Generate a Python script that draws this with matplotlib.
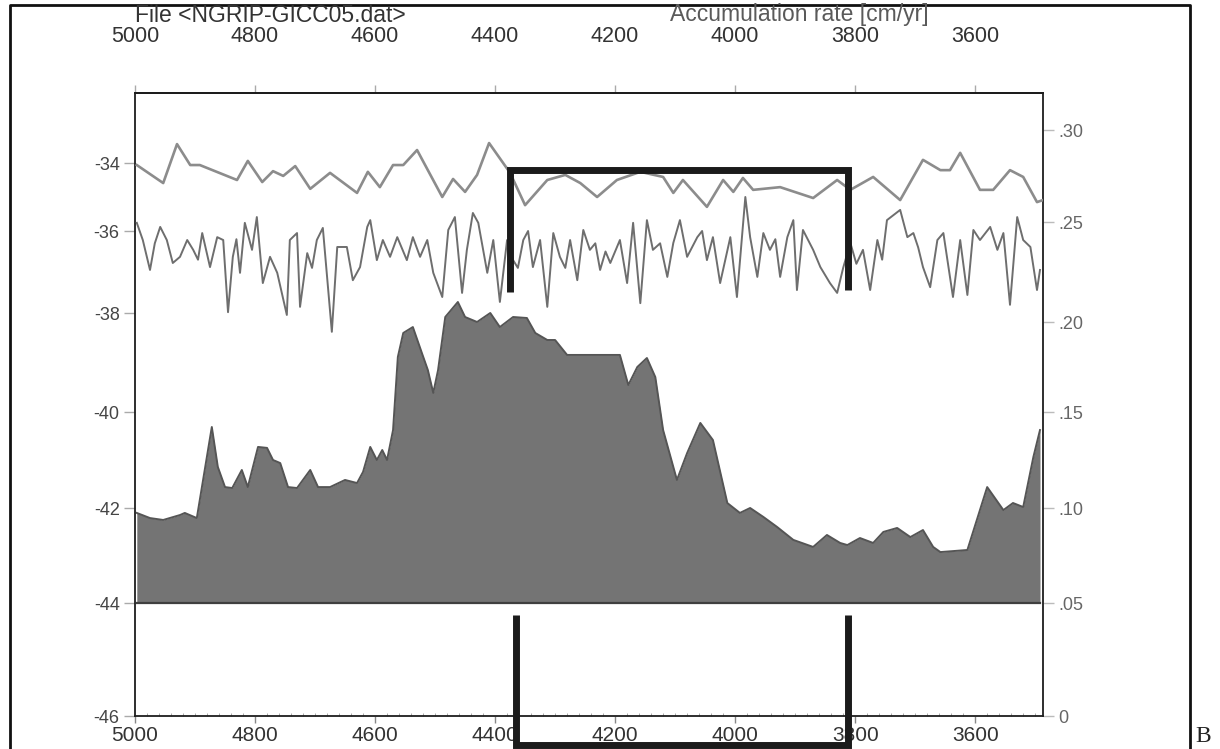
import numpy as np
import matplotlib
matplotlib.use("Agg")
import matplotlib.pyplot as plt
from matplotlib.lines import Line2D
from matplotlib.ticker import MultipleLocator, FixedLocator, FixedFormatter, NullLocator

plt.rcParams['font.family'] = ['Liberation Sans', 'DejaVu Sans']

# ---------------- data ----------------
# upper smoothed d18O curve (left axis)
smooth_years = [4997, 4953, 4930, 4908, 4892, 4830, 4812, 4788, 4770, 4753, 4733, 4708,
                4675, 4630, 4612, 4592, 4570, 4553, 4530, 4488, 4470, 4450, 4430, 4410,
                4375, 4350, 4313, 4283, 4258, 4230, 4197, 4158, 4120, 4103, 4087, 4047,
                4020, 4003, 3987, 3970, 3925, 3870, 3830, 3808, 3770, 3725, 3687, 3658,
                3642, 3625, 3592, 3570, 3542, 3520, 3497, 3487]
smooth_d18o = [-34.06, -34.59, -33.46, -34.06, -34.06, -34.50, -33.94, -34.56, -34.24, -34.38,
               -34.09, -34.76, -34.29, -34.88, -34.26, -34.71, -34.06, -34.06, -33.63, -35.00,
               -34.47, -34.85, -34.35, -33.43, -34.29, -35.24, -34.50, -34.35, -34.59, -35.00,
               -34.50, -34.26, -34.41, -34.88, -34.50, -35.29, -34.50, -34.85, -34.44, -34.79,
               -34.71, -35.03, -34.50, -34.79, -34.41, -35.09, -33.91, -34.21, -34.21, -33.71,
               -34.79, -34.79, -34.21, -34.41, -35.15, -35.09]

# raw d18O curve (left axis)
raw_years = [4997, 4987, 4975, 4967, 4958, 4947, 4937, 4925, 4913, 4903, 4895, 4888, 4875,
             4863, 4853, 4845, 4837, 4831, 4825, 4817, 4805, 4797, 4787, 4775, 4763, 4747,
             4742, 4730, 4725, 4713, 4705, 4697, 4687, 4672, 4663, 4647, 4637, 4625, 4613,
             4608, 4597, 4587, 4575, 4563, 4547, 4537, 4525, 4513, 4503, 4488, 4478, 4467,
             4455, 4447, 4437, 4428, 4413, 4403, 4392, 4380, 4370, 4362, 4353, 4345, 4337,
             4325, 4313, 4303, 4292, 4283, 4275, 4263, 4253, 4242, 4233, 4225, 4216, 4208,
             4192, 4180, 4170, 4158, 4147, 4137, 4125, 4113, 4103, 4092, 4080, 4063, 4055,
             4047, 4037, 4025, 4008, 3997, 3983, 3975, 3963, 3953, 3942, 3933, 3925, 3913,
             3903, 3897, 3887, 3870, 3858, 3842, 3830, 3820, 3808, 3798, 3787, 3775, 3763,
             3755, 3747, 3725, 3713, 3703, 3695, 3687, 3675, 3663, 3653, 3637, 3625, 3613,
             3603, 3592, 3575, 3563, 3553, 3542, 3530, 3520, 3508, 3497, 3492]
raw_d18o = [-35.76, -36.22, -36.95, -36.30, -35.88, -36.22, -36.78, -36.63, -36.22, -36.46,
            -36.70, -36.05, -36.88, -36.15, -36.22, -37.98, -36.63, -36.20, -37.02, -35.76,
            -36.46, -35.59, -37.27, -36.63, -37.02, -38.04, -36.22, -36.05, -37.85, -36.54,
            -36.90, -36.22, -35.91, -38.38, -36.39, -36.39, -37.20, -36.88, -35.88, -35.68,
            -36.71, -36.22, -36.63, -36.15, -36.71, -36.15, -36.63, -36.22, -37.02, -37.61,
            -35.97, -35.59, -37.51, -36.46, -35.47, -35.76, -37.02, -36.22, -37.73, -36.22,
            -36.71, -36.90, -36.22, -36.00, -36.88, -36.22, -37.85, -36.05, -36.63, -36.90,
            -36.22, -37.20, -35.97, -36.46, -36.30, -36.95, -36.50, -36.78, -36.22, -37.27,
            -35.76, -37.76, -35.68, -36.46, -36.30, -37.12, -36.29, -35.68, -36.63, -36.15,
            -36.00, -36.71, -36.15, -37.27, -36.15, -37.61, -35.00, -36.15, -37.12, -36.05,
            -36.46, -36.20, -37.12, -36.15, -35.68, -37.44, -35.97, -36.46, -36.88, -37.27,
            -37.51, -36.90, -36.29, -36.80, -36.46, -37.44, -36.22, -36.70, -35.68, -35.38,
            -36.15, -36.05, -36.40, -36.88, -37.37, -36.22, -36.05, -37.61, -36.22, -37.56,
            -35.97, -36.22, -35.88, -36.46, -36.05, -37.80, -35.59, -36.22, -36.39, -37.44,
            -36.95]

# accumulation rate (right axis, cm/yr)
acc_years = [4997, 4975, 4953, 4925, 4917, 4897, 4872, 4862, 4850, 4838, 4822, 4812, 4795,
             4780, 4770, 4758, 4745, 4730, 4708, 4695, 4675, 4650, 4630, 4620, 4608, 4597,
             4588, 4580, 4570, 4562, 4553, 4537, 4522, 4512, 4503, 4495, 4483, 4462, 4450,
             4430, 4408, 4392, 4370, 4347, 4333, 4313, 4300, 4280, 4192, 4178, 4163, 4147,
             4133, 4120, 4097, 4080, 4058, 4037, 4013, 3992, 3975, 3953, 3930, 3903, 3870,
             3847, 3825, 3813, 3792, 3770, 3753, 3730, 3708, 3687, 3670, 3658, 3613, 3580,
             3553, 3537, 3520, 3503, 3492]
acc_rate = [0.0974, 0.0947, 0.0937, 0.0963, 0.0974, 0.0947, 0.1422, 0.1214, 0.1109, 0.1104,
            0.1198, 0.1109, 0.1318, 0.1313, 0.1250, 0.1234, 0.1109, 0.1104, 0.1198, 0.1109,
            0.1109, 0.1146, 0.1130, 0.1188, 0.1318, 0.1250, 0.1302, 0.1250, 0.1406, 0.1806,
            0.1939, 0.1972, 0.1828, 0.1733, 0.1606, 0.1733, 0.2025, 0.2100, 0.2025, 0.2000,
            0.2045, 0.1972, 0.2025, 0.2020, 0.1939, 0.1900, 0.1900, 0.1817, 0.1817, 0.1650,
            0.1750, 0.1800, 0.1694, 0.1406, 0.1146, 0.1286, 0.1443, 0.1354, 0.1026, 0.0974,
            0.1000, 0.0953, 0.0900, 0.0832, 0.0795, 0.0858, 0.0816, 0.0805, 0.0842, 0.0816,
            0.0874, 0.0895, 0.0847, 0.0884, 0.0795, 0.0768, 0.0779, 0.1109, 0.0989, 0.1026,
            0.1005, 0.1266, 0.1406]
acc_base = 0.05

# highlighted interval (bracket annotation)
bracket_years = [4375, 3812]

x_ticks = [5000, 4800, 4600, 4400, 4200, 4000, 3800, 3600]
left_ticks = [-46, -44, -42, -40, -38, -36, -34]
right_ticks = [0, 0.05, 0.10, 0.15, 0.20, 0.25, 0.30]
right_labels = ['0', '.05', '.10', '.15', '.20', '.25', '.30']

title_left = "File <NGRIP-GICC05.dat>"
title_right = "Accumulation rate [cm/yr]"

# ---------------- figure geometry ----------------
W, H = 1220, 749
px_l, px_r, px_t, px_b = 135, 1043, 93, 716

# the scanned axes are not evenly spaced: map tick values to their printed heights
left_anchor_val = [-48, -46, -44, -42, -40, -38, -36, -34, -32, -30]
left_anchor_px = [835, 716, 603, 508, 412, 313, 231, 163, 93, 23]
right_anchor_val = [-0.05, 0, 0.05, 0.10, 0.15, 0.20, 0.25, 0.30, 0.32, 0.40]
right_anchor_px = [835, 716, 603, 508, 412, 322, 222, 130, 93, -55]


def make_scale(vals, pix):
    v = np.asarray(vals, float)
    p = -np.asarray(pix, float)

    def fwd(x):
        return np.interp(x, v, p)

    def inv(x):
        return np.interp(x, p, v)
    return fwd, inv


fig = plt.figure(figsize=(W / 100, H / 100), dpi=100)
ax = fig.add_axes([px_l / W, 1 - px_b / H, (px_r - px_l) / W, (px_b - px_t) / H])
ax.set_yscale('function', functions=make_scale(left_anchor_val, left_anchor_px))
ax.set_xlim(5000, 3487)
ax.set_ylim(-46, -32)
ax.set_zorder(2)
ax.patch.set_visible(False)

ax2 = ax.twinx()
ax2.set_zorder(1)
ax2.set_yscale('function', functions=make_scale(right_anchor_val, right_anchor_px))
ax2.set_ylim(0, 0.32)

# fill (accumulation)
ax2.fill_between(acc_years, acc_base, acc_rate, color='#747474', linewidth=0, zorder=2)
ax2.plot(acc_years, acc_rate, color='#555555', lw=1.4, zorder=3)
ax2.plot([acc_years[0], acc_years[-1]], [acc_base, acc_base], color='#3f3f3f', lw=1.6, zorder=3)

# curves
ax.plot(smooth_years, smooth_d18o, color='#8c8c8c', lw=1.9, zorder=3)
ax.plot(raw_years, raw_d18o, color='#6e6e6e', lw=1.4, zorder=3)

# bracket annotations
bk = dict(color='#1b1b1b', lw=5, solid_capstyle='butt', solid_joinstyle='miter',
          clip_on=False, zorder=6)
ax.plot([bracket_years[0], bracket_years[0], bracket_years[1], bracket_years[1]],
        [-37.49, -34.21, -34.21, -37.45], **bk)
ax.plot([bracket_years[0] - 10, bracket_years[0] - 10, bracket_years[1], bracket_years[1]],
        [-44.21, -46.49, -46.49, -44.21], **bk)

# axes styling
for s in ax.spines.values():
    s.set_linewidth(1.3)
    s.set_color('#1e1e1e')
for s in ax2.spines.values():
    s.set_visible(False)

ax.xaxis.set_major_locator(FixedLocator(x_ticks))
ax.xaxis.set_major_formatter(FixedFormatter([str(t) for t in x_ticks]))
ax.xaxis.set_minor_locator(MultipleLocator(20))
ax.tick_params(axis='x', which='major', direction='out', length=5, width=1, pad=2,
               labelsize=15, labelcolor='#333333', color='#888888')
ax.tick_params(axis='x', which='minor', direction='in', length=2, width=0.6, color='#999999')

ax.yaxis.set_major_locator(FixedLocator(left_ticks))
ax.yaxis.set_major_formatter(FixedFormatter([str(t) for t in left_ticks]))
ax.yaxis.set_minor_locator(NullLocator())
ax.tick_params(axis='y', direction='out', length=8, width=1, pad=3,
               labelsize=13, labelcolor='#454545', color='#aaaaaa')

ax2.yaxis.set_major_locator(FixedLocator(right_ticks))
ax2.yaxis.set_major_formatter(FixedFormatter(right_labels))
ax2.yaxis.set_minor_locator(NullLocator())
ax2.tick_params(axis='y', direction='out', length=8, width=1, pad=3,
                labelsize=13, labelcolor='#666666', color='#bbbbbb')

sec = ax.secondary_xaxis('top')
sec.xaxis.set_major_locator(FixedLocator(x_ticks))
sec.xaxis.set_major_formatter(FixedFormatter([str(t) for t in x_ticks]))
sec.tick_params(direction='out', length=6, width=1, pad=27, labelsize=15.5,
                labelcolor='#333333', color='#aaaaaa')
sec.spines['top'].set_linewidth(1.3)

# titles
fig.text(135 / W, 1 - 15 / H, title_left, ha='left', va='center', fontsize=16.5, color='#333333')
fig.text(799 / W, 1 - 15 / H, title_right, ha='center', va='center', fontsize=16.5, color='#5a5a5a')


# outer frame
def fx(x):
    return x / W


def fy(y):
    return 1 - y / H


fig.add_artist(Line2D([fx(10), fx(10), fx(1190), fx(1190)], [fy(752), fy(5), fy(5), fy(752)],
                      color='#111111', lw=2))
fig.text(fx(1203), fy(736), "B", ha='center', va='center', fontsize=17,
         family=['Liberation Serif', 'DejaVu Serif'], color='#222222')

fig.savefig("out.png", dpi=100, facecolor='white')
